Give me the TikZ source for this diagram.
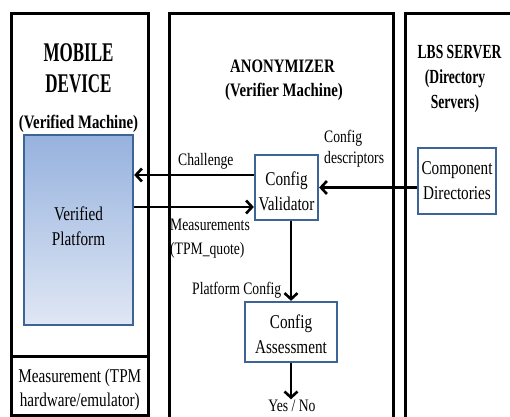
\documentclass[tikz,border=0pt]{standalone}
\usepackage{fontspec}
\setmainfont{Liberation Serif}
\usepackage{graphicx}
\usetikzlibrary{arrows.meta, positioning}
\definecolor{boxblue}{RGB}{60,100,150}
\definecolor{platformtop}{RGB}{150,178,222}
\definecolor{platformbot}{RGB}{224,231,244}
% condensed text: [drop]{x-scale}{column}{lines}
\newcommand{\nar}[4][0pt]{\raisebox{#1}[\height][\depth]{\scalebox{#2}[1]{\begin{tabular}[t]{@{}#3@{}}#4\end{tabular}}}}

\begin{document}
\begin{tikzpicture}[
      x=1pt, y=-1pt,
      frame/.style={rectangle, draw=black, line width=2.6pt, inner sep=0pt},
      unit/.style={rectangle, draw=boxblue, line width=2.3pt, fill=white,
                   inner sep=0pt, font=\fontsize{19.5}{25}\selectfont},
      head/.style={inner sep=0pt, anchor=base, font=\fontsize{19}{24}\selectfont\bfseries},
      bighead/.style={inner sep=0pt, anchor=base, font=\fontsize{27}{31}\selectfont\bfseries},
      lbshd/.style={inner sep=0pt, anchor=base, font=\fontsize{20}{25}\selectfont\bfseries},
      lbl/.style={inner sep=0pt, anchor=base west, font=\fontsize{17.5}{22}\selectfont},
      arr/.style={-{Straight Barb[length=6pt,width=13pt]}, line width=2.6pt}
    ]
      \useasboundingbox (0,0) rectangle (510,416);
      \clip (0,0) rectangle (510,416);

      % Outer frames
      \node[frame, anchor=north west, minimum width=137pt, minimum height=402pt] (mobile) at (10,12) {};
      \node[frame, anchor=north west, minimum width=137pt, minimum height=59pt,
            font=\fontsize{19.5}{24}\selectfont] (tpm) at (10,355) {\nar[-4pt]{0.78}{c}{Measurement (TPM\\hardware/emulator)}};
      \node[frame, anchor=north west, minimum width=224pt, minimum height=430pt] (anon) at (168,12) {};
      \node[frame, anchor=north west, minimum width=140pt, minimum height=430pt] (lbs) at (404,12) {};

      % Titles
      \node[bighead] (mobhead) at (78.5,61) {\nar{0.63}{c}{MOBILE\\DEVICE}};
      \node[head] (mobsub) at (78.5,128) {\nar{0.78}{c}{(Verified Machine)}};
      \node[head] (anonhead) at (282.5,72) {\nar{0.78}{c}{ANONYMIZER}};
      \node[head] (anonsub) at (284,96) {\nar{0.78}{c}{(Verifier Machine)}};
      \node[lbshd] (lbshead) at (459.5,58) {\nar{0.68}{c}{LBS SERVER}};
      \node[lbshd] (lbssub) at (455,83) {\nar{0.68}{c}{(Directory\\Servers)}};

      % Inner blocks
      \node[unit, minimum width=109pt, minimum height=190pt,
            top color=platformtop, bottom color=platformbot] (platform) at (78.5,230) {\nar[2pt]{0.78}{c}{Verified\\Platform}};
      \node[unit, minimum width=63pt, minimum height=65pt] (valid) at (286.5,187.5) {\nar[-5pt]{0.78}{c}{Config\\Validator}};
      \node[unit, minimum width=78pt, minimum height=66pt] (comp) at (457,181) {\nar[-1pt]{0.78}{c}{Component\\Directories}};
      \node[unit, minimum width=92pt, minimum height=60pt] (assess) at (291,332) {\nar[-4pt]{0.78}{c}{Config\\Assessment}};

      % Labels
      \node[lbl] (chal) at (178,165) {\nar{0.78}{l}{Challenge}};
      \node[lbl, font=\fontsize{17.5}{21}\selectfont] (desc) at (324,142) {\nar{0.78}{l}{Config\\descriptors}};
      \node[lbl, font=\fontsize{17.5}{24}\selectfont] (meas) at (170,230) {\nar{0.78}{l}{Measurements\\(TPM\_quote)}};
      \node[lbl] (plat) at (192,294) {\nar{0.78}{l}{Platform Config}};
      \node[lbl, anchor=base, font=\fontsize{17.5}{15}\selectfont] (yesno) at (292,411) {\nar{0.78}{c}{Yes / No}};

      % Arrows
      \draw[arr] ([yshift=12.5pt]valid.west) -- ([yshift=12.5pt]valid.west -| platform.east);
      \draw[arr] ([yshift=-19.5pt]valid.west -| platform.east) -- ([yshift=-19.5pt]valid.west);
      \draw[arr] (valid.east -| comp.west) -- (valid.east);
      \draw[arr] (valid.south -| assess.north) -- (assess.north);
      \draw[arr] (assess.south) -- (assess.south |- yesno.north);

    \end{tikzpicture}
\end{document}
